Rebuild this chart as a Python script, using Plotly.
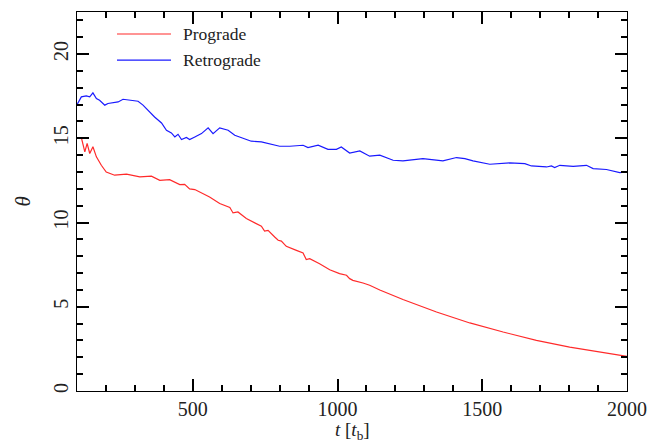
import plotly.graph_objects as go

# Prograde (red)
t_pro = [100, 115, 127, 135, 144, 155, 167, 184, 201, 230, 271, 294, 317, 357, 386, 420, 455,
         472, 489, 507, 524, 558, 593, 628, 639, 656, 685, 720, 737, 748, 760, 783, 795, 806,
         823, 858, 881, 892, 904, 938, 973, 1007, 1031, 1042, 1053, 1088, 1111, 1146, 1226,
         1342, 1457, 1572, 1687, 1802, 1860, 1929, 2000]
th_pro = [15.05, 15.05, 14.2, 14.7, 14.1, 14.5, 13.9, 13.4, 13.0, 12.81, 12.87, 12.81, 12.71,
          12.75, 12.51, 12.55, 12.25, 12.27, 12.0, 11.96, 11.8, 11.52, 11.13, 10.89, 10.57,
          10.63, 10.24, 9.9, 9.78, 9.5, 9.54, 9.14, 8.95, 8.9, 8.59, 8.35, 8.19, 7.8, 7.86,
          7.56, 7.2, 6.97, 6.87, 6.67, 6.57, 6.41, 6.28, 6.0, 5.43, 4.69, 4.04, 3.5, 3.01,
          2.61, 2.46, 2.28, 2.06]

# Retrograde (blue)
t_ret = [100, 103, 115, 132, 144, 155, 167, 178, 196, 207, 230, 242, 259, 288, 311, 328, 345,
         368, 392, 409, 426, 438, 449, 461, 478, 489, 507, 530, 553, 570, 593, 622, 645, 668,
         702, 737, 766, 800, 835, 881, 898, 933, 967, 996, 1013, 1042, 1077, 1111, 1146, 1192,
         1226, 1272, 1295, 1364, 1411, 1440, 1468, 1526, 1595, 1647, 1670, 1722, 1739, 1750,
         1768, 1814, 1860, 1883, 1929, 1975, 2000]
th_ret = [17.0, 17.1, 17.46, 17.52, 17.46, 17.7, 17.36, 17.26, 16.97, 17.07, 17.1, 17.16,
          17.32, 17.26, 17.2, 16.97, 16.67, 16.27, 15.91, 15.48, 15.32, 15.08, 15.24, 14.93,
          15.05, 14.93, 15.08, 15.28, 15.62, 15.28, 15.62, 15.48, 15.18, 15.05, 14.83, 14.79,
          14.69, 14.53, 14.53, 14.59, 14.45, 14.59, 14.35, 14.35, 14.49, 14.13, 14.25, 13.94,
          14.0, 13.7, 13.66, 13.74, 13.8, 13.66, 13.86, 13.8, 13.66, 13.46, 13.54, 13.5, 13.36,
          13.3, 13.36, 13.27, 13.4, 13.34, 13.4, 13.2, 13.15, 12.97, 13.0]

series_names = ["Prograde", "Retrograde"]
series_colors = ["#ff2a2a", "#1a1aff"]
x_title = "<i>t</i> [<i>t</i><sub>b</sub>]"
y_title = "<i>θ</i>"

X_RANGE = [100, 2000]
Y_RANGE = [0, 22.5]

FONT = "Liberation Serif"
INK = "black"
TXT = "#222"

fig = go.Figure()
fig.add_trace(go.Scatter(x=t_pro, y=th_pro, mode="lines", name=series_names[0],
                         line=dict(color=series_colors[0], width=1.2), showlegend=False))
fig.add_trace(go.Scatter(x=t_ret, y=th_ret, mode="lines", name=series_names[1],
                         line=dict(color=series_colors[1], width=1.2), showlegend=False))

# Manual legend (longer line swatches, like the reference)
leg_y = [0.942, 0.873]
for name, color, yy in zip(series_names, series_colors, leg_y):
    fig.add_shape(type="line", xref="paper", yref="paper", x0=0.0727, x1=0.1709,
                  y0=yy, y1=yy, line=dict(color=color, width=1.2))
    fig.add_annotation(xref="paper", yref="paper", x=0.189, y=yy, text=name,
                       showarrow=False, xanchor="left", yanchor="middle",
                       font=dict(family=FONT, size=17.5, color=TXT))

# Axis titles as annotations
fig.add_annotation(xref="paper", yref="paper", x=0.5, y=-0.105, text=x_title,
                   showarrow=False, xanchor="center", yanchor="middle",
                   font=dict(family=FONT, size=19, color=TXT))
fig.add_annotation(xref="paper", yref="paper", x=-0.1, y=0.5, text=y_title,
                   showarrow=False, xanchor="center", yanchor="middle", textangle=-90,
                   font=dict(family=FONT, size=21, color=TXT))

fig.update_layout(
    width=661, height=445, template="none",
    margin=dict(l=77, r=34, t=12, b=54),
    showlegend=False,
    xaxis=dict(
        range=X_RANGE, dtick=500, showline=True, linecolor=INK, mirror="ticks",
        gridcolor="rgba(0,0,0,0)", zerolinecolor="rgba(0,0,0,0)",
        ticks="inside", ticklen=12, tickwidth=2, tickcolor=INK,
        minor=dict(dtick=100, ticks="inside", ticklen=6, tickcolor=INK, tickwidth=2),
        tickfont=dict(family=FONT, size=20, color=TXT),
    ),
    yaxis=dict(
        range=Y_RANGE, dtick=5, tickangle=-90, showline=True, linecolor=INK, mirror="ticks",
        gridcolor="rgba(0,0,0,0)", zerolinecolor="rgba(0,0,0,0)",
        ticks="inside", ticklen=12, tickwidth=2, tickcolor=INK,
        minor=dict(dtick=1, ticks="inside", ticklen=6, tickcolor=INK, tickwidth=2),
        tickfont=dict(family=FONT, size=20, color=TXT),
    ),
)

fig.write_html("out.html")
